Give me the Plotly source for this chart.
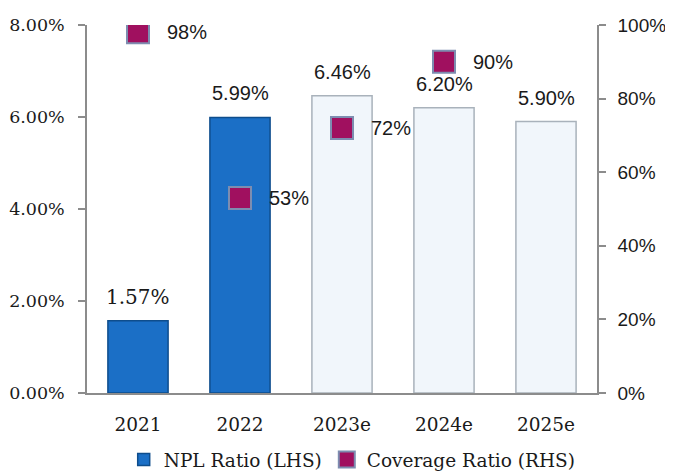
import plotly.graph_objects as go

years = ["2021", "2022", "2023e", "2024e", "2025e"]
npl_ratio = [0.0157, 0.0599, 0.0646, 0.0620, 0.0590]
npl_labels = ["1.57%", "5.99%", "6.46%", "6.20%", "5.90%"]
cov_years = ["2021", "2022", "2023e", "2024e"]
coverage = [0.98, 0.53, 0.72, 0.90]
cov_labels = ["98%", "53%", "72%", "90%"]

SERIF = "DejaVu Serif"
SANS = "Liberation Sans"
INK = "#1a1a1a"
AXIS = "#8c8c8c"

# actuals in blue, estimates as pale boxes
bar_fill = ["#1b6fc6", "#1b6fc6", "#f1f6fb", "#f1f6fb", "#f1f6fb"]
bar_edge = ["#0e4d8c", "#0e4d8c", "#a9b2bb", "#a9b2bb", "#a9b2bb"]
label_font = [SERIF, SANS, SANS, SANS, SANS]

fig = go.Figure()

fig.add_trace(go.Bar(
    x=years,
    y=npl_ratio,
    name="NPL Ratio (LHS)",
    marker=dict(color=bar_fill, line=dict(color=bar_edge, width=1.5)),
    yaxis="y",
))

fig.add_trace(go.Scatter(
    x=cov_years,
    y=coverage,
    name="Coverage Ratio (RHS)",
    mode="markers",
    marker=dict(symbol="square", size=22, color="#a0105f",
                line=dict(color="#7d8db0", width=2)),
    yaxis="y2",
))

# value labels above the bars (category index, since "2021" would be read as a number)
for v, lab, fam, yr in zip(npl_ratio, npl_labels, label_font, years):
    fig.add_annotation(x=years.index(yr), y=v, xref="x", yref="y", text=lab,
                       showarrow=False, yanchor="middle", yshift=24,
                       font=dict(family=fam, size=20, color=INK))

# labels to the right of the coverage markers
for yr, v, lab in zip(cov_years, coverage, cov_labels):
    fig.add_annotation(x=years.index(yr), y=v, xref="x", yref="y2", text=lab,
                       showarrow=False, xanchor="left", yanchor="middle", xshift=27,
                       font=dict(family=SANS, size=20, color=INK))

# the page body has an 8px margin, so the figure is 8px smaller each way
fig.update_layout(
    width=665,
    height=465,
    margin=dict(l=79, r=76, t=17, b=80, autoexpand=False),
    paper_bgcolor="white",
    plot_bgcolor="white",
    bargap=0.41,
    showlegend=True,
    legend=dict(orientation="h", x=0.52, xanchor="center", y=-0.182, yanchor="middle",
                font=dict(family=SERIF, size=18.5, color=INK), itemwidth=30,
                traceorder="normal"),
    xaxis=dict(
        type="category", categoryorder="array", categoryarray=years,
        range=[-0.5, len(years) - 0.5],
        showline=True, linecolor=AXIS, linewidth=1.5,
        ticks="", showgrid=False, ticklabelstandoff=14,
        tickfont=dict(family=SERIF, size=18.5, color=INK),
        automargin=False,
    ),
    yaxis=dict(
        range=[0, 0.08], dtick=0.02, tickformat=".2%",
        showline=True, linecolor=AXIS, linewidth=1.5,
        ticks="outside", ticklen=7, tickcolor=AXIS, tickwidth=1.5,
        showgrid=False, zeroline=False, ticklabelstandoff=10,
        tickfont=dict(family=SERIF, size=17.5, color=INK),
        automargin=False,
    ),
    yaxis2=dict(
        range=[0, 1], dtick=0.2, tickformat=".0%",
        overlaying="y", side="right",
        showline=True, linecolor=AXIS, linewidth=1.5,
        ticks="outside", ticklen=7, tickcolor=AXIS, tickwidth=1.5,
        showgrid=False, zeroline=False, ticklabelstandoff=8,
        tickfont=dict(family=SANS, size=19, color=INK),
        automargin=False,
    ),
)

fig.write_html("out.html")
